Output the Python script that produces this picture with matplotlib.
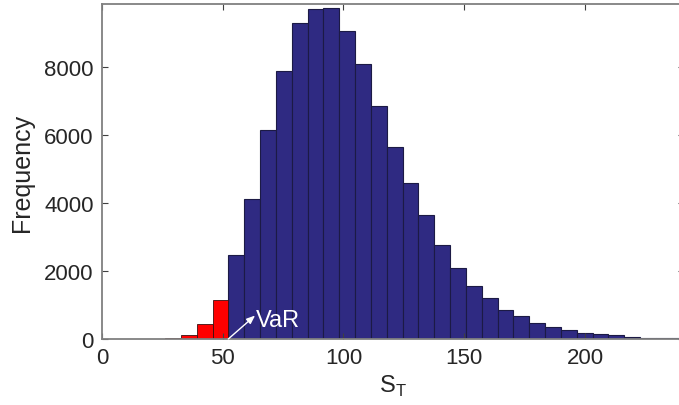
import numpy as np
from matplotlib import pyplot as plt

# histogram of simulated terminal prices S_T (bin edges and counts)
bin_start = 26.1
bin_width = 6.556
counts = [15, 130, 430, 1160,
          2480, 4130, 6140, 7880, 9280, 9700, 9720, 9050, 8100, 6840,
          5650, 4580, 3650, 2760, 2100, 1570, 1205, 862, 667, 475,
          343, 265, 167, 147, 108, 59, 40, 22, 18, 10]
var_level = 52.3   # value-at-risk cut-off

edges = bin_start + bin_width * np.arange(len(counts) + 1)
counts = np.array(counts)
left = edges[:-1]
tail = left < var_level

plt.rcParams['font.family'] = ['Liberation Sans', 'DejaVu Sans']
plt.rcParams['mathtext.fontset'] = 'custom'
plt.rcParams['mathtext.rm'] = 'Liberation Sans'

fig = plt.figure(figsize=(6.79, 4.06), dpi=100)
ax = fig.add_axes([0.1502, 0.1626, 0.8572, 0.8251])

ax.bar(left[~tail], counts[~tail], width=bin_width, align='edge',
       color='#2f2a82', edgecolor='#1c1a45', linewidth=0.8)
ax.bar(left[tail], counts[tail], width=bin_width, align='edge',
       color='#ff0000', edgecolor='#3a1010', linewidth=0.6)

# VaR marker
ax.annotate('', xy=(63.4, 690), xytext=(var_level, 0),
            arrowprops=dict(arrowstyle='-|>,head_length=0.5,head_width=0.2',
                            color='white', lw=1.0, shrinkA=0, shrinkB=0))
ax.text(63.8, 390, 'VaR', color='white', fontsize=17, ha='left', va='baseline')

ax.set_xlim(0, 241)
ax.set_ylim(0, 9850)
ax.set_xticks([0, 50, 100, 150, 200])
ax.set_yticks([0, 2000, 4000, 6000, 8000])
ax.tick_params(direction='in', top=True, right=True, length=4, width=0.8,
               color='#404040', labelsize=16, labelcolor='#262626', pad=6)
for s in ax.spines.values():
    s.set_color('#808080')
    s.set_linewidth(1.3)

ax.set_xlabel(r'S$_{\mathrm{T}}$', fontsize=17, color='#262626', labelpad=3)
ax.set_ylabel('Frequency', fontsize=18, color='#262626', labelpad=7)

plt.savefig('out.png', dpi=100)
